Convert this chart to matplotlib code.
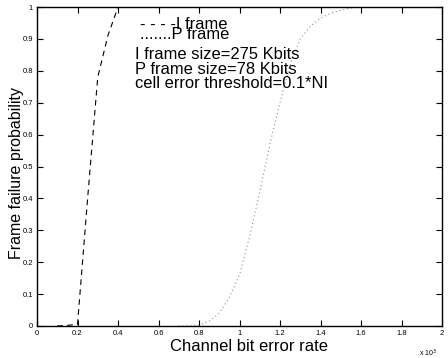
import matplotlib
matplotlib.use("Agg")
import matplotlib.pyplot as plt

plt.rcParams['font.family'] = ['Liberation Sans', 'DejaVu Sans']

# I frame (dashed) and P frame (dotted) failure curves, BER in units of 1e-3
ber_i = [0.10, 0.15, 0.18, 0.20, 0.25, 0.30, 0.35, 0.40, 2.00]
fail_i = [0.0, 0.002, 0.004, 0.005, 0.40, 0.78, 0.91, 1.0, 1.0]

ber_p = [0.70, 0.75, 0.80, 0.85, 0.90, 0.95, 1.00, 1.05, 1.10, 1.15, 1.20,
         1.25, 1.30, 1.35, 1.40, 1.45, 1.50, 1.55, 1.60, 2.00]
fail_p = [0.0, 0.001, 0.003, 0.015, 0.04, 0.09, 0.16, 0.28, 0.42, 0.57, 0.70,
          0.82, 0.90, 0.94, 0.965, 0.98, 0.99, 0.997, 1.0, 1.0]

legend_head = "- - - -I frame\n.......P frame"
legend_lines = ["I frame size=275 Kbits", "P frame size=78 Kbits",
                "cell error threshold=0.1*NI"]

fig = plt.figure(figsize=(4.48, 3.58), dpi=100)
ax = fig.add_axes([37 / 448, 1 - 326 / 358, 405 / 448, 319 / 358])

ax.plot(ber_i, fail_i, color="black", linestyle=(0, (5, 4)), linewidth=0.8)
ax.plot(ber_p, fail_p, color="#909090", linestyle=(0, (1, 2.5)), linewidth=0.8)

ax.set_xlim(0, 2)
ax.set_ylim(0, 1)
ax.set_xticks([0, 0.2, 0.4, 0.6, 0.8, 1.0, 1.2, 1.4, 1.6, 1.8, 2.0])
ax.set_xticklabels(["0", "0.2", "0.4", "0.6", "0.8", "1", "1.2", "1.4", "1.6", "1.8", "2"])
ax.set_yticks([i / 10 for i in range(11)])
ax.set_yticklabels(["0", "0.1", "0.2", "0.3", "0.4", "0.5", "0.6", "0.7", "0.8", "0.9", "1"])
ax.tick_params(direction="in", top=True, right=True, labelsize=5.5, length=4,
               width=0.8, pad=3)
for s in ax.spines.values():
    s.set_linewidth(1.0)

ax.set_xlabel("Channel bit error rate", fontsize=12)
ax.xaxis.set_label_coords(0.523, -0.04)
# label sits over the tick numbers, as in the original
ax.set_ylabel("Frame failure probability", fontsize=11.5)
ax.yaxis.set_label_coords(-0.033, 0.481)

fig.text(419 / 448, 1 - 353 / 358, "x 10$^3$", fontsize=5, va="center")

fig.text(140 / 448, 1 - 39 / 358, legend_head, fontsize=11.9, va="baseline",
         linespacing=0.62)
for t, y in zip(legend_lines, [59, 73.5, 88]):
    fig.text(135 / 448, 1 - y / 358, t, fontsize=11.9, va="baseline")

plt.savefig("out.png", dpi=100)
